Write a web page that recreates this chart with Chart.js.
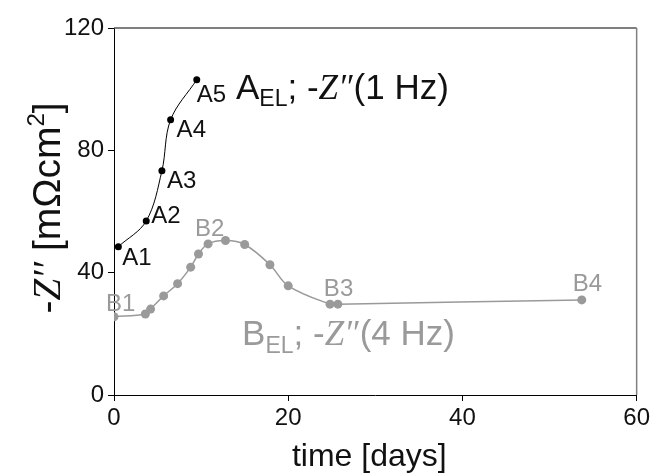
<!DOCTYPE html>
<html>
<head>
<meta charset="utf-8">
<script src="https://cdn.jsdelivr.net/npm/chart.js@4"></script>
<style>
html,body{margin:0;padding:0;background:#fff;}
#wrap{width:653px;height:475px;}
</style>
</head>
<body>
<div id="wrap"><canvas id="c" width="653" height="475"></canvas></div>
<script>
// ---- data ----
const daysA = [0.5, 3.7, 5.5, 6.5, 9.5];
const zA = [48.5, 56.9, 73.3, 90.0, 103.1];
const labelsA = ['A1', 'A2', 'A3', 'A4', 'A5'];

const daysB = [0, 3.6, 4.2, 5.7, 7.3, 8.8, 9.7, 10.8, 12.8, 15.0, 17.9, 20.0, 24.8, 25.7, 53.7];
const zB = [25.6, 26.5, 28.1, 32.4, 36.4, 41.8, 46.1, 49.4, 50.5, 49.2, 42.6, 35.7, 29.7, 29.7, 31.1];
const labelsB = ['B1', '', '', '', '', '', '', 'B2', '', '', '', '', '', 'B3', 'B4'];

const xTicks = [0, 20, 40, 60];
const yTicks = [0, 40, 80, 120];

const seriesA = { head: 'A', sub: 'EL', freq: '(1 Hz)' };
const seriesB = { head: 'B', sub: 'EL', freq: '(4 Hz)' };

// ---- styling ----
const SANS = '"Liberation Sans", Arial, sans-serif';
const SERIF = '"Liberation Serif", "Times New Roman", serif';
const GRAY = '#9a9a9a';
const offA = [[4, 18], [5, 2], [5, 17], [6, 17], [0, 22]];
const offB = { 0: [-8, -6], 7: [-13, -8], 13: [-14, -8], 14: [-9, -9] };

function toXY(xs, ys) { return xs.map((x, i) => ({ x: x, y: ys[i] })); }

function drawRich(ctx, parts, x, y) {
  let cx = x;
  for (const p of parts) {
    ctx.font = p.font;
    ctx.fillText(p.t, cx, y + (p.dy || 0));
    cx += ctx.measureText(p.t).width + (p.gap || 0);
  }
  return cx;
}
function richWidth(ctx, parts) {
  let w = 0;
  for (const p of parts) { ctx.font = p.font; w += ctx.measureText(p.t).width + (p.gap || 0); }
  return w;
}
function seriesParts(s, F) {
  return [
    { t: s.head, font: F + 'px ' + SANS },
    { t: s.sub, font: Math.round(F * 0.66) + 'px ' + SANS, dy: F * 0.22 },
    { t: '; -', font: F + 'px ' + SANS },
    { t: 'Z', font: 'italic ' + F + 'px ' + SERIF },
    { t: '\u2033', font: 'italic ' + F + 'px ' + SERIF, gap: 1 },
    { t: s.freq, font: F + 'px ' + SANS }
  ];
}

const decor = {
  id: 'decor',
  afterDatasetsDraw(chart) {
    const ctx = chart.ctx;
    const xs = chart.scales.x, ys = chart.scales.y;
    const a = chart.chartArea;
    ctx.save();
    // frame top/right
    ctx.lineWidth = 1.5;
    ctx.strokeStyle = '#555';
    ctx.beginPath(); ctx.moveTo(a.left, a.top); ctx.lineTo(a.right, a.top); ctx.stroke();
    ctx.strokeStyle = '#808080';
    ctx.beginPath(); ctx.moveTo(a.right, a.top); ctx.lineTo(a.right, a.bottom); ctx.stroke();

    // point labels
    ctx.textAlign = 'left';
    ctx.textBaseline = 'alphabetic';
    ctx.font = '24px ' + SANS;
    ctx.fillStyle = '#111';
    labelsA.forEach((l, i) => {
      const px = xs.getPixelForValue(daysA[i]), py = ys.getPixelForValue(zA[i]);
      ctx.fillText(l, px + offA[i][0], py + offA[i][1]);
    });
    ctx.fillStyle = GRAY;
    labelsB.forEach((l, i) => {
      if (!l) return;
      const px = xs.getPixelForValue(daysB[i]), py = ys.getPixelForValue(zB[i]);
      ctx.fillText(l, px + offB[i][0], py + offB[i][1]);
    });

    // series annotations
    ctx.fillStyle = '#111';
    drawRich(ctx, seriesParts(seriesA, 35), xs.getPixelForValue(14.0), ys.getPixelForValue(96.9));
    ctx.fillStyle = GRAY;
    drawRich(ctx, seriesParts(seriesB, 35), xs.getPixelForValue(14.7), ys.getPixelForValue(16.4));

    // y axis title (rotated)
    ctx.fillStyle = '#111';
    const F = 39;
    const yParts = [
      { t: '-', font: F + 'px ' + SANS },
      { t: 'Z', font: 'italic ' + F + 'px ' + SERIF },
      { t: '\u2032\u2032', font: 'italic ' + F + 'px ' + SERIF },
      { t: ' [m\u03A9cm', font: F + 'px ' + SANS },
      { t: '2', font: Math.round(F * 0.62) + 'px ' + SANS, dy: -F * 0.42 },
      { t: ']', font: F + 'px ' + SANS }
    ];
    const w = richWidth(ctx, yParts);
    ctx.translate(60, 208);
    ctx.rotate(-Math.PI / 2);
    drawRich(ctx, yParts, -w / 2, 0);
    ctx.restore();

    // x axis title
    ctx.save();
    ctx.fillStyle = '#111';
    ctx.font = '32px ' + SANS;
    ctx.textAlign = 'center';
    ctx.fillText('time [days]', (a.left + a.right) / 2 - 6, 466);
    ctx.restore();
  }
};

new Chart(document.getElementById('c'), {
  type: 'scatter',
  data: {
    datasets: [
      {
        data: toXY(daysA, zA),
        showLine: true,
        borderColor: '#000',
        backgroundColor: '#000',
        borderWidth: 1,
        pointRadius: 3.5,
        pointBorderWidth: 0,
        tension: 0.35
      },
      {
        data: toXY(daysB, zB),
        showLine: true,
        borderColor: GRAY,
        backgroundColor: GRAY,
        borderWidth: 1.5,
        pointRadius: 4.5,
        pointBorderWidth: 0,
        tension: 0.35
      }
    ]
  },
  options: {
    responsive: false,
    animation: false,
    devicePixelRatio: 1,
    layout: { padding: { top: 28, right: 12, left: 0, bottom: 0 } },
    plugins: { legend: { display: false }, tooltip: { enabled: false } },
    scales: {
      x: {
        type: 'linear',
        min: 0, max: 60,
        afterBuildTicks(s) { s.ticks = xTicks.map(v => ({ value: v })); },
        afterFit(s) { s.height = 80; },
        grid: { drawOnChartArea: false, drawTicks: true, tickLength: 6, color: '#000' },
        border: { display: true, color: '#000', width: 1 },
        ticks: { color: '#111', font: { family: SANS, size: 24 }, padding: 3, maxRotation: 0 }
      },
      y: {
        type: 'linear',
        min: 0, max: 120,
        afterBuildTicks(s) { s.ticks = yTicks.map(v => ({ value: v })); },
        afterFit(s) { s.width = 114; },
        grid: { drawOnChartArea: false, drawTicks: true, tickLength: 6, color: '#000' },
        border: { display: true, color: '#000', width: 1 },
        ticks: { color: '#111', font: { family: SANS, size: 24 }, padding: 4 }
      }
    }
  },
  plugins: [decor]
});
</script>
</body>
</html>
